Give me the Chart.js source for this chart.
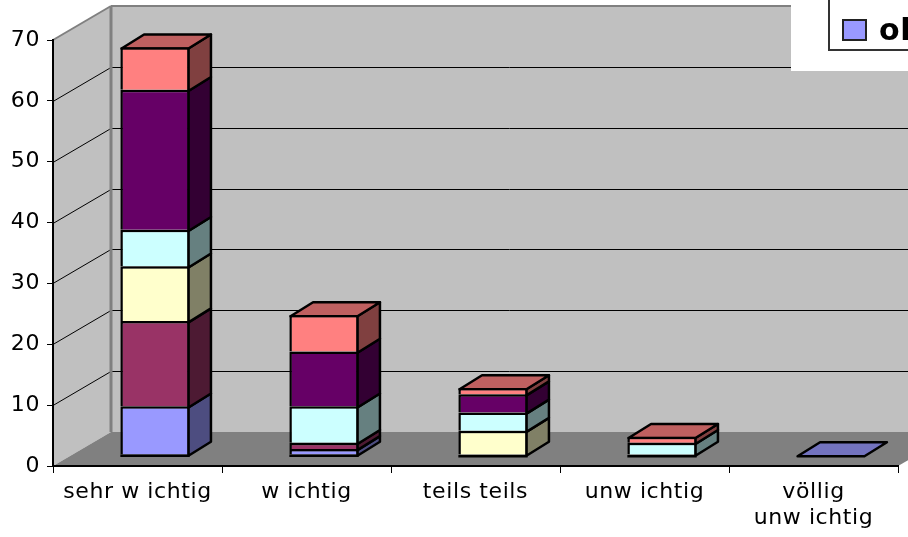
<!DOCTYPE html>
<html>
<head>
<meta charset="utf-8">
<title>Chart</title>
<script src="https://cdn.jsdelivr.net/npm/chart.js@4/dist/chart.umd.min.js"></script>
<style>
  html, body { margin: 0; padding: 0; background: #fff; overflow: hidden; }
  canvas { display: block; }
</style>
</head>
<body>
<canvas id="chart" width="908" height="537"></canvas>
<script>
// Values
const categories = ['sehr w ichtig', 'w ichtig', 'teils teils', 'unw ichtig', ['völlig', 'unw ichtig']];
const yTicks = [0, 10, 20, 30, 40, 50, 60, 70];
const seriesA = [8, 1, 0, 0, 0];
const seriesB = [14, 1, 0, 0, 0];
const seriesC = [9, 0, 4, 0, 0];
const seriesD = [6, 6, 3, 2, 0];
const seriesE = [23, 9, 3, 0, 0];
const seriesF = [7, 6, 1, 1, 0];
const legendLabels = ['ol'];

const allSeries = [seriesA, seriesB, seriesC, seriesD, seriesE, seriesF];
const frontColors = ['#9999ff', '#993366', '#ffffcc', '#ccffff', '#660066', '#ff8080'];
const sideColors = ['#4d4d80', '#4d1a33', '#808066', '#668080', '#330033', '#804040'];
const topColors = ['#7373bf', '#73264d', '#bfbf99', '#99bfbf', '#4d004d', '#bf6060'];

const fontFamily = '"DejaVu Sans", sans-serif';
const wallDepth = { x: 58, y: -34 };
const barShift = { x: 17.5, y: -11 };
const barDepth = { x: 22.5, y: -14 };
const edgeWidth = 2.5;
const edgeInset = 1.2; // Chart.js draws bar borders inside the bar

function polygon(ctx, points, fill, stroke, lineWidth) {
  ctx.beginPath();
  points.forEach(function (p, i) {
    if (i === 0) ctx.moveTo(p[0], p[1]);
    else ctx.lineTo(p[0], p[1]);
  });
  ctx.closePath();
  if (fill) {
    ctx.fillStyle = fill;
    ctx.fill();
  }
  if (stroke) {
    ctx.strokeStyle = stroke;
    ctx.lineWidth = lineWidth;
    ctx.lineJoin = 'round';
    ctx.stroke();
  }
}

function line(ctx, x1, y1, x2, y2, color, width) {
  ctx.beginPath();
  ctx.moveTo(x1, y1);
  ctx.lineTo(x2, y2);
  ctx.strokeStyle = color;
  ctx.lineWidth = width;
  ctx.stroke();
}

// Side walls, floor and gridlines behind the bars
const wallsPlugin = {
  id: 'walls',
  beforeDraw(chart) {
    const ctx = chart.ctx;
    const y = chart.scales.y;
    const a = chart.chartArea;
    const dx = wallDepth.x;
    const dy = wallDepth.y;
    const top = y.getPixelForValue(70);
    const zero = y.getPixelForValue(0);

    ctx.save();
    ctx.fillStyle = '#fff';
    ctx.fillRect(0, 0, chart.width, chart.height);
    polygon(ctx, [[a.left + dx, top + dy], [a.right + dx, top + dy], [a.right + dx, zero + dy], [a.left + dx, zero + dy]], '#c0c0c0');
    polygon(ctx, [[a.left, top], [a.left + dx, top + dy], [a.left + dx, zero + dy], [a.left, zero]], '#c0c0c0');
    polygon(ctx, [[a.left, zero], [a.right, zero], [a.right + dx, zero + dy], [a.left + dx, zero + dy]], '#808080');

    yTicks.slice(1, -1).forEach(function (v) {
      const py = Math.round(y.getPixelForValue(v)) + 0.5;
      line(ctx, a.left, py, a.left + dx, py + dy, '#000', 1);
      line(ctx, a.left + dx, py + dy, chart.width, py + dy, '#000', 1);
    });

    line(ctx, a.left, top, a.left + dx, top + dy, '#808080', 2);
    line(ctx, a.left + dx, top + dy, chart.width, top + dy, '#808080', 2);
    line(ctx, a.left + dx, top + dy, a.left + dx, zero + dy, '#808080', 3);
    ctx.restore();

    // the reference lettering runs a little wider than the font
    ctx.letterSpacing = '0.6px';
  }
};

// Moves the flat bars back onto the middle of the floor and adds top and side faces
const depthPlugin = {
  id: 'depth',
  beforeDatasetsDraw(chart) {
    const ctx = chart.ctx;
    ctx.save();
    ctx.translate(barShift.x, barShift.y);
    const dx = barDepth.x;
    const dy = barDepth.y;

    categories.forEach(function (c, i) {
      let topIndex = 0;
      allSeries.forEach(function (s, k) {
        if (s[i] > 0) topIndex = k;
      });
      allSeries.forEach(function (s, k) {
        const bar = chart.getDatasetMeta(k).data[i];
        const left = bar.x - bar.width / 2 + edgeInset;
        const right = bar.x + bar.width / 2 - edgeInset;
        const upper = bar.y + edgeInset;
        const lower = bar.base + edgeInset;
        if (s[i] > 0) {
          polygon(ctx, [[right, upper], [right + dx, upper + dy], [right + dx, lower + dy], [right, lower]], sideColors[k], '#000', edgeWidth);
        }
        if (k === topIndex) {
          polygon(ctx, [[left, upper], [left + dx, upper + dy], [right + dx, upper + dy], [right, upper]], topColors[k], '#000', edgeWidth);
        }
      });
    });
  },
  afterDatasetsDraw(chart) {
    const ctx = chart.ctx;
    // closing line under each stack
    categories.forEach(function (c, i) {
      const bar = chart.getDatasetMeta(0).data[i];
      const total = allSeries.reduce(function (sum, s) { return sum + s[i]; }, 0);
      if (total > 0) {
        const py = bar.base + edgeInset;
        line(ctx, bar.x - bar.width / 2, py, bar.x + bar.width / 2, py, '#000', edgeWidth);
      }
    });
    ctx.restore();
  }
};

// Only the corner of the legend is inside the picture
const legendPlugin = {
  id: 'cutLegend',
  afterDraw(chart) {
    const ctx = chart.ctx;
    ctx.save();
    ctx.fillStyle = '#fff';
    ctx.fillRect(791, 0, 117, 71);
    ctx.strokeStyle = '#333';
    ctx.lineWidth = 2;
    ctx.beginPath();
    ctx.moveTo(829, 0);
    ctx.lineTo(829, 50);
    ctx.lineTo(908, 50);
    ctx.stroke();
    ctx.fillStyle = frontColors[0];
    ctx.fillRect(843, 20, 23, 20);
    ctx.strokeStyle = '#222';
    ctx.strokeRect(843, 20, 23, 20);
    ctx.fillStyle = '#000';
    ctx.font = 'bold 30px ' + fontFamily;
    ctx.textBaseline = 'alphabetic';
    ctx.fillText(legendLabels[0], 879, 40);
    ctx.restore();
  }
};

const datasets = allSeries.map(function (s, k) {
  return {
    label: 'Reihe ' + (k + 1),
    data: s,
    backgroundColor: frontColors[k],
    borderColor: '#000',
    borderSkipped: false,
    // segments share one line, the line under the stack comes from the plugin
    borderWidth: { top: edgeWidth, left: edgeWidth, right: edgeWidth, bottom: 0 },
    barPercentage: 0.41,
    categoryPercentage: 1,
    clip: false
  };
});

new Chart(document.getElementById('chart').getContext('2d'), {
  type: 'bar',
  data: { labels: categories, datasets: datasets },
  plugins: [wallsPlugin, depthPlugin, legendPlugin],
  options: {
    responsive: false,
    animation: false,
    layout: { padding: { top: 40, right: 10 } },
    plugins: {
      legend: { display: false },
      tooltip: { enabled: false }
    },
    scales: {
      x: {
        stacked: true,
        afterFit(scale) { scale.height = 71; },
        grid: { drawOnChartArea: false, color: '#000', tickLength: 7 },
        border: { color: '#000', width: 2 },
        ticks: {
          color: '#000',
          padding: 6,
          maxRotation: 0,
          autoSkip: false,
          font: { family: fontFamily, size: 22 }
        }
      },
      y: {
        stacked: true,
        min: yTicks[0],
        max: yTicks[yTicks.length - 1],
        afterFit(scale) { scale.width = 53; },
        grid: { drawOnChartArea: false, color: '#000', tickLength: 6 },
        border: { color: '#000', width: 2 },
        ticks: {
          stepSize: 10,
          color: '#000',
          padding: 7,
          font: { family: fontFamily, size: 22 }
        }
      }
    }
  }
});
</script>
</body>
</html>
